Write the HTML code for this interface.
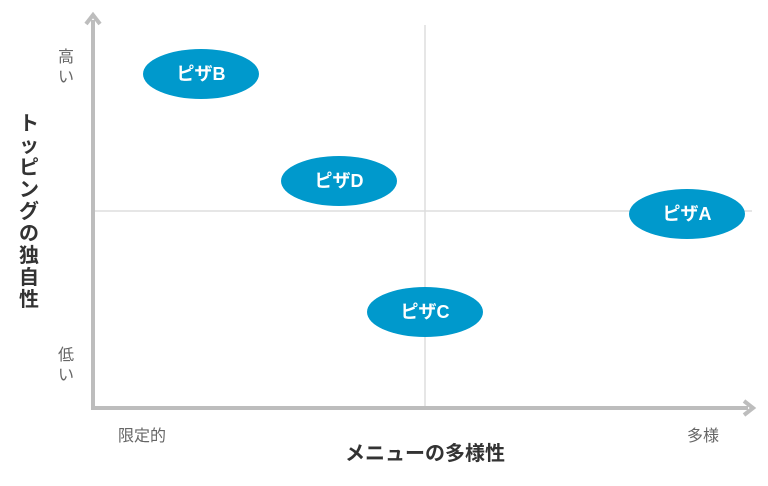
<!DOCTYPE html>
<html><head><meta charset="utf-8"><style>
body{margin:0;background:#fff;}
svg text{font-family:"Liberation Sans","Noto Sans CJK JP",sans-serif;}
</style></head><body>
<svg width="768" height="481" viewBox="0 0 768 481" xmlns="http://www.w3.org/2000/svg">
<line x1="425" y1="25" x2="425" y2="408" stroke="#ddd" stroke-width="1.5"/>
<line x1="93" y1="211" x2="752" y2="211" stroke="#ddd" stroke-width="1.5"/>
<line x1="93" y1="20" x2="93" y2="409" stroke="#bdbdbd" stroke-width="4"/>
<line x1="91" y1="408" x2="748" y2="408" stroke="#bdbdbd" stroke-width="4"/>
<polyline points="86,24 93,15 100,24" fill="none" stroke="#bdbdbd" stroke-width="4"/>
<polyline points="744,401 753,408 744,415" fill="none" stroke="#bdbdbd" stroke-width="4"/>
<g fill="#0099cc">
<ellipse cx="201" cy="74" rx="58" ry="25"/>
<ellipse cx="339" cy="181" rx="58" ry="25"/>
<ellipse cx="687" cy="214" rx="58" ry="25"/>
<ellipse cx="425" cy="312" rx="58" ry="25"/>
</g>
<g fill="#fff" font-size="18" font-weight="bold" text-anchor="middle">
<text x="201" y="80">ピザB</text>
<text x="339" y="187">ピザD</text>
<text x="687" y="220">ピザA</text>
<text x="425" y="318">ピザC</text>
</g>
<g fill="#666" font-size="16" text-anchor="middle">
<text x="66" y="62">高</text><text x="66" y="82">い</text>
<text x="66" y="360">低</text><text x="66" y="380">い</text>
<text x="142" y="441">限定的</text>
<text x="703" y="441">多様</text>
</g>
<g fill="#333" font-size="20" font-weight="bold" text-anchor="middle">
<text x="425" y="460">メニューの多様性</text>
<text x="29" y="130">ト</text><text x="29" y="152">ッ</text><text x="29" y="174">ピ</text><text x="29" y="196">ン</text><text x="29" y="218">グ</text><text x="29" y="240">の</text><text x="29" y="262">独</text><text x="29" y="284">自</text><text x="29" y="306">性</text>
</g>
</svg>
</body></html>
